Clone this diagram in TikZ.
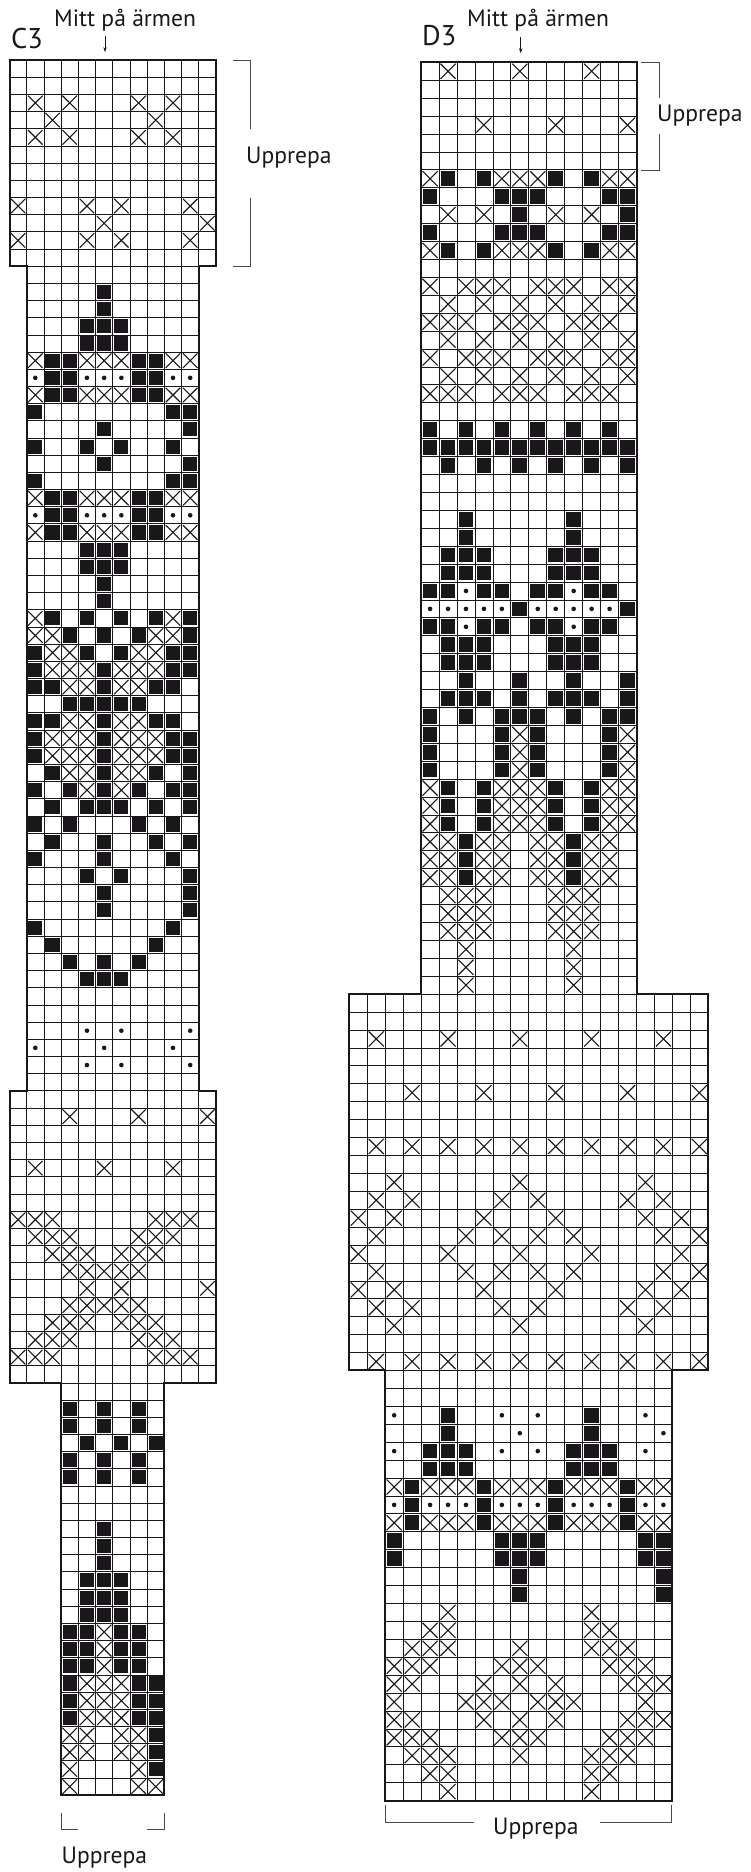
\documentclass[tikz,border=0pt]{standalone}
\usepackage{fontspec}
\setmainfont{PT Sans}
\usetikzlibrary{arrows.meta,positioning}
\definecolor{inkcolour}{HTML}{1A171B}
\definecolor{bracketcolour}{HTML}{4A4A4C}

% one chart cell: b black, x cross, o dot, - empty
\newcommand{\placecell}[1]{%
  \if#1b\fill[blackcell] (\cellcol+.09,\rowno+.09) rectangle (\cellcol+.91,\rowno+.91);\fi
  \if#1x\draw[crossmark] (\cellcol+.08,\rowno+.08) -- (\cellcol+.92,\rowno+.92)
    (\cellcol+.92,\rowno+.08) -- (\cellcol+.08,\rowno+.92);\fi
  \if#1o\fill[dotmark] (\cellcol+.5,\rowno+.5) circle (2.3pt);\fi}
\def\scancells#1{\ifx#1\relax\else\placecell{#1}%
  \edef\cellcol{\the\numexpr\cellcol+1}\expandafter\scancells\fi}
% left column, first row, rows as strings
\newcommand{\chartrows}[3]{%
  \foreach \rowtext [count=\rowno from #2] in {#3} {%
    \def\cellcol{#1}\expandafter\scancells\rowtext\relax}}
% grid lines of one block: left, top, right, bottom
\newcommand{\gridblock}[4]{%
  \foreach \gx in {#1,...,#3} {\draw[gridline] (\gx,#2) -- (\gx,#4);}
  \foreach \gy in {#2,...,#4} {\draw[gridline] (#1,\gy) -- (#3,\gy);}}

\begin{document}
\begin{tikzpicture}[
    x=1pt, y=-1pt,
    gridline/.style={draw=inkcolour, line width=0.75pt},
    outline/.style={draw=inkcolour, line width=2pt, line join=miter},
    blackcell/.style={fill=inkcolour},
    crossmark/.style={draw=inkcolour, line width=1.1pt},
    dotmark/.style={fill=inkcolour},
    bracket/.style={draw=bracketcolour, line width=0.9pt},
    arrow/.style={draw=inkcolour, line width=0.6pt, -{Stealth[length=1.7mm,width=1.2mm]}},
    chartname/.style={font=\fontsize{28.5}{29}\selectfont, text=inkcolour, inner sep=0pt, anchor=base west},
    label/.style={font=\fontsize{23.6}{24}\selectfont, text=inkcolour, inner sep=0pt, anchor=base west}
]
\useasboundingbox (0,0) rectangle (751,1872);

% Chart C3
\begin{scope}[shift={(9.5,60)}, x=17.21pt, y=-17.18pt]
\gridblock{0}{0}{12}{12}
\gridblock{1}{12}{11}{60}
\gridblock{0}{60}{12}{77}
\gridblock{3}{77}{9}{101}
\chartrows{0}{0}{------------,------------,-x-x---x-x--,--x-----x---,-x-x---x-x--,------------,------------,------------,%
  x---x-x---x-,-----x-----x,x---x-x---x-,------------}
\chartrows{1}{12}{----------,----b-----,----b-----,---bbb----,---bbb----,%
  x bb xxx bb xx,o bb ooo bb oo,x bb xxx bb xx,%
  b-------bb,----b----b,b--b-b--b-,----b----b,b-------bb,%
  x bb xxx bb xx,o bb ooo bb oo,x bb xxx bb xx,%
  ---bbb----,---bbb----,----b-----,----b-----,%
  xb-b-b-bxb,xxb-b-bxxb,bxxb-bxxbb,bxxxbxxxbb,bbxxbxxbb-,--bbbbb---,bbxxbxxbb-,bxxxbxxxbb,bxxxbxxxbb,%
  -bxxbxxb-b,b-bxbxb-bb,-b-bbb-b-b,b-b---b-b-,-b--b--b-b,b---b---b-,---b-b---b,----b----b,----b----b,%
  b-------b-,-b-----b--,--b-b-b---,---bbb----,----------,----------,%
  ---o-o---o,o---o---o-,---o-o---o,----------}
\chartrows{0}{60}{------------,---x---x---x,------------,------------,-x---x---x--,------------,------------,%
  xxx-----xxx-,-xxx---xxx--,--xxx-xxx---,---xxxxx----,----x-x----x,---xxxxx----,--xxx-xxx---,-xxx---xxx--,xxx-----xxx-,------------}
\chartrows{3}{77}{------,b-b-b-,b-b-b-,-b-b-b,b-b-b-,b-b-b-,------,------,--b---,--b---,--b---,%
  -bbb--,-bbb--,-bbb--,bbxbb-,bbxbb-,bbxbb-,bxxxbb,bxxxbb,bxxxbb,xx-xxb,xx-xxb,x---xb,x---xx}
\draw[outline] (0,0) -- (12,0) -- (12,12) -- (11,12) -- (11,60) -- (12,60) -- (12,77) -- (9,77) -- (9,101)
  -- (3,101) -- (3,77) -- (0,77) -- (0,60) -- (1,60) -- (1,12) -- (0,12) -- cycle;
\end{scope}

% Chart D3
\begin{scope}[shift={(349.3,62.3)}, x=17.95pt, y=-17.92pt]
\gridblock{4}{0}{16}{52}
\gridblock{0}{52}{20}{73}
\gridblock{2}{73}{18}{97}
\chartrows{4}{0}{-x---x---x--,------------,------------,---x---x---x,------------,------------,%
  xb-bxxxb-bxx,b---bbb---bb,-x-x-b-x-x-b,b---bbb---bb,xb-bxxxb-bxx,------------,%
  x-xxx-xxx-xx,-x-x-x-x-x-x,xxx-xxx-xxx-,-x-x-x-x-x-x,x-xxx-xxx-xx,-x-x-x-x-x-x,xxx-xxx-xxx-,------------,%
  b-b-b-b-b-b-,bbbbbbbbbbbb,-b-b-b-b-b-b,------------,------------,%
  --b-----b---,--b-----b---,-bbb---bbb--,-bbb---bbb--,bbobb-bbobb-,ooooob ooooob,bbobb-bbobb-,-bbb---bbb--,-bbb---bbb--,%
  --b--b--b--b,-bbb-b-bbb-b,b-b-bbb-b-bb,b---bxb---bx,b---bxb---bx,b---bxb---bx,%
  xb-bxxxb-bxx,xb-bxxxb-bxx,xb-bxxxb-bxx,xxbxx-xxbxx-,xxbxx-xxbxx-,xxbxx-xxbxx-,%
  -xxx---xxx--,-xxx---xxx--,-xxx---xxx--,--x-----x---,--x-----x---,--x-----x---}
\chartrows{0}{52}{--------------------,--------------------,-x---x---x---x---x--,--------------------,--------------------,%
  ---x---x---x---x---x,--------------------,--------------------,-x-x-x-x-x-x-x-x-x-x,--------------------,%
  --x------x------x---,-x-x----x-x----x-x--,x-x----x---x----x-x-,-x----x-x-x-x----x-x,x----x---x---x----x-,%
  -x----x-x-x-x----x-x,x-x----x---x----x-x-,-x-x----x-x----x-x--,--x------x------x---,--------------------,-x-x-x-x-x-x-x-x-x-x}
\chartrows{2}{73}{----------------,----------------,o--b--o-o--b--o-,---b---o---b---o,o-bbb-o-o-bbb-o-,--bbb-----bbb---,%
  xb xxxb xxxb xxxb xx,ob ooob ooob ooob oo,xb xxxb xxxb xxxb xx,b-----bbb-----bb,b-----bbb-----bb,-------b-------b,-------b-------b,%
  ---x-------x----,--xx-------xx---,-xxx---x---xxx--,xxx---xxx---xxx-,xx---x-x-x---xxx,x---xxx-xxx---x-,xx---x-x-x---xxx,%
  xxx---xxx---xxx-,-xxx---x---xxx--,--xx-------xx---,---x-------x----}
\draw[outline] (4,0) -- (16,0) -- (16,52) -- (20,52) -- (20,73) -- (18,73) -- (18,97) -- (2,97) -- (2,73)
  -- (0,73) -- (0,52) -- (4,52) -- cycle;
\end{scope}

% Brackets
\draw[bracket] (233,60) -- (250,60) -- (250,128.5);
\draw[bracket] (250,197.5) -- (250,266) -- (233,266);
\draw[bracket] (640.7,62.3) -- (659.3,62.3) -- (659.3,98.3);
\draw[bracket] (659.3,134.3) -- (659.3,170) -- (640.7,170);
\draw[bracket] (61,1812.7) -- (61,1829.3) -- (78.3,1829.3);
\draw[bracket] (164.7,1812.7) -- (164.7,1829.3) -- (147.3,1829.3);
\draw[bracket] (385,1805) -- (385,1822.3) -- (474.3,1822.3);
\draw[bracket] (671.7,1805) -- (671.7,1822.3) -- (600.3,1822.3);

% Labels
\node[chartname] (cname) at (11,48) {C3};
\node[chartname] (dname) at (422,45) {D3};
\node[label] (cmid) at (54,26) {Mitt på ärmen};
\node[label] (dmid) at (467,26) {Mitt på ärmen};
\node[label] (crep) at (246,163) {Upprepa};
\node[label] (drep) at (657,121) {Upprepa};
\node[label] (cfoot) at (61.5,1863) {Upprepa};
\node[label] (dfoot) at (493,1834) {Upprepa};

% Arrows
\coordinate (ctip) at (105,52);
\coordinate (dtip) at (520.7,53);
\draw[arrow] (ctip |- 0,36) -- (ctip);
\draw[arrow] (dtip |- 0,37) -- (dtip);

\end{tikzpicture}
\end{document}
